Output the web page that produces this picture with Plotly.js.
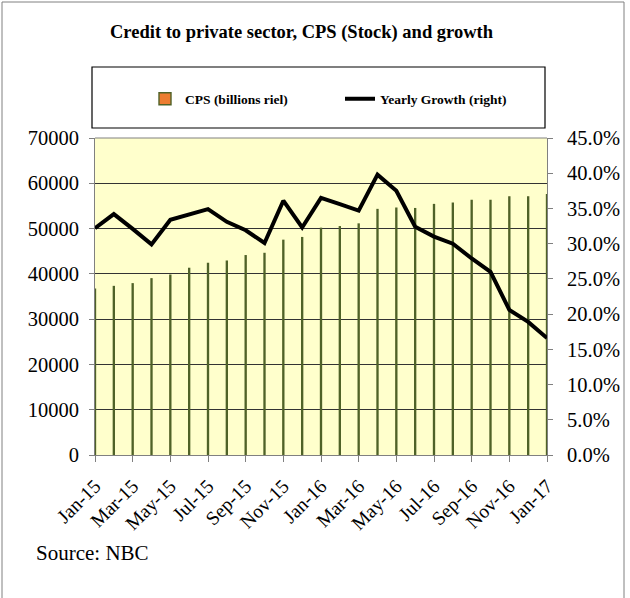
<!DOCTYPE html>
<html><head><meta charset="utf-8">
<script src="https://cdn.plot.ly/plotly-3.0.1.min.js"></script>
<style>html,body{margin:0;padding:0;background:#fff}#chart{width:630px;height:598px}</style>
</head><body><div id="chart"></div>
<script>
const months = ["Jan-15","Feb-15","Mar-15","Apr-15","May-15","Jun-15","Jul-15","Aug-15","Sep-15","Oct-15","Nov-15","Dec-15",
"Jan-16","Feb-16","Mar-16","Apr-16","May-16","Jun-16","Jul-16","Aug-16","Sep-16","Oct-16","Nov-16","Dec-16","Jan-17"];
const cps = [36600,37200,37800,38900,39700,41200,42300,42800,44000,44500,47400,48000,
50050,50400,51000,54200,54500,54400,55300,55600,56200,56200,57000,57000,57500];
const growth = [32.2,34.2,32.1,29.9,33.4,34.1,34.9,33.1,31.9,30.1,36.1,32.3,
36.5,35.6,34.7,39.8,37.5,32.4,31.0,30.0,27.9,26.0,20.6,18.9,16.6];
const leftTicks = [0,10000,20000,30000,40000,50000,60000,70000];
const leftTickText = leftTicks.map(v => String(v));
const rightTicks = [0,5,10,15,20,25,30,35,40,45];
const rightTickText = rightTicks.map(v => v.toFixed(1) + "%");

const L = 95, R = 547, T = 138, B = 455, W = 630, H = 598;
const px = x => (x - L) / (R - L);
const py = y => (B - y) / (B - T);
const serif = "Liberation Serif, Times New Roman, serif";

const traces = [
  {type:"bar", x:months, y:cps, name:"CPS (billions riel)", width:0.05,
   marker:{color:"#ED7D31", line:{color:"#4F6228", width:1.4}}, yaxis:"y", cliponaxis:true},
  {type:"scatter", mode:"lines", x:months, y:growth, name:"Yearly Growth (right)",
   line:{color:"#000", width:4}, yaxis:"y2", cliponaxis:true}
];

const layout = {
  width:W, height:H, paper_bgcolor:"#fff", plot_bgcolor:"#FFFFCC",
  margin:{l:L, r:W-R, t:T, b:H-B, pad:0},
  showlegend:true,
  legend:{orientation:"h", x:px(340), xanchor:"center", y:py(99), yanchor:"middle",
    font:{family:serif, size:13.5, color:"#000", weight:"bold"}, bgcolor:"rgba(0,0,0,0)", borderwidth:0,
    entrywidth:150, entrywidthmode:"pixels"},
  xaxis:{type:"category", range:[0,24], tickmode:"linear", tick0:0, dtick:2,
    tickangle:-45, ticks:"outside", ticklen:6, tickcolor:"#808080", ticklabelstandoff:5,
    showline:true, linecolor:"#808080", linewidth:1, showgrid:false, zeroline:false,
    tickfont:{family:serif, size:19.5, color:"#000"}},
  yaxis:{range:[0,70000], tickvals:leftTicks, ticktext:leftTickText, ticks:"outside", ticklen:5, tickcolor:"#808080",
    ticklabelstandoff:6,
    showline:true, linecolor:"#808080", linewidth:1, showgrid:true, gridcolor:"#333", gridwidth:1,
    zeroline:false, tickfont:{family:serif, size:20.5, color:"#000"}},
  yaxis2:{overlaying:"y", side:"right", range:[0,45], tickvals:rightTicks, ticktext:rightTickText,
    ticks:"outside", ticklen:5, tickcolor:"#808080", showline:true, linecolor:"#808080", linewidth:1,
    ticklabelstandoff:10,
    showgrid:false, zeroline:false, tickfont:{family:serif, size:20.5, color:"#000"}},
  shapes:[
    {type:"rect", xref:"paper", yref:"paper", x0:px(2), x1:px(624), y0:py(600), y1:py(2),
     line:{color:"#808080", width:1}, fillcolor:"rgba(0,0,0,0)", layer:"below"},
    {type:"rect", xref:"paper", yref:"paper", x0:px(92), x1:px(545), y0:py(128), y1:py(67),
     line:{color:"#000", width:1.2}, fillcolor:"rgba(0,0,0,0)"},
    {type:"line", xref:"paper", yref:"paper", x0:0, x1:1, y0:1, y1:1, line:{color:"#808080", width:1}}
  ],
  annotations:[
    {text:"<b>Credit to private sector, CPS (Stock) and growth</b>", xref:"paper", yref:"paper",
     x:px(302), y:py(32), xanchor:"center", yanchor:"middle", showarrow:false,
     font:{family:serif, size:18.5, color:"#000"}},
    {text:"Source: NBC", xref:"paper", yref:"paper", x:px(34), y:py(553), xanchor:"left", yanchor:"middle",
     showarrow:false, font:{family:serif, size:21, color:"#000"}}
  ]
};
Plotly.newPlot("chart", traces, layout, {displayModeBar:false, staticPlot:true});
</script></body></html>
